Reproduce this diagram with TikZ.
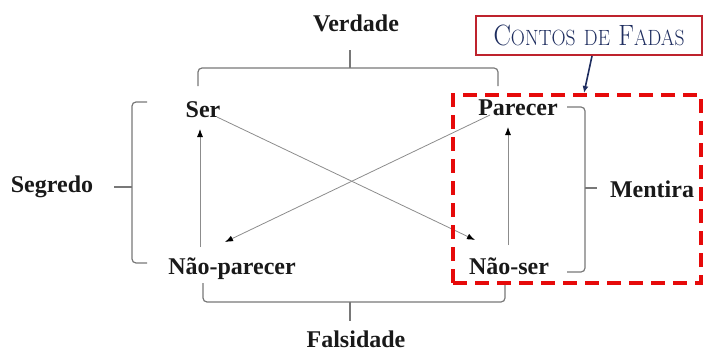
\documentclass[tikz,border=0pt]{standalone}
\usepackage{fontspec}
\setmainfont{Liberation Serif}
\newfontfamily\lmfont{Latin Modern Roman}
\usetikzlibrary{arrows.meta,calc}
\definecolor{fairyred}{RGB}{230,10,10}
\definecolor{boxred}{RGB}{190,35,45}
\definecolor{navy}{RGB}{30,45,95}
\definecolor{brgray}{RGB}{120,120,120}
\definecolor{lngray}{RGB}{140,140,140}
\newcommand{\capbig}[1]{{\fontsize{28}{28}\selectfont #1}}
\newcommand{\capsmall}[1]{{\fontsize{21}{21}\selectfont #1}}
\tikzset{
  lbl/.style={font=\bfseries\fontsize{24}{24}\selectfont, inner sep=0pt, anchor=base, text=black!90},
  br/.style={draw=brgray, line width=1.2pt, rounded corners=4pt},
  arr/.style={draw=lngray, line width=0.8pt, -{Latex[length=8pt,width=6pt,color=black]}},
  fairy/.style={draw=fairyred, line width=4pt, dash pattern=on 14pt off 8pt},
  contos/.style={draw=boxred, line width=2pt, fill=white, text=navy},
  navyarr/.style={draw=navy, line width=1.6pt, -{Latex[length=7pt,width=6pt]}}
}
\begin{document}
\begin{tikzpicture}[x=1pt,y=-1pt]
\useasboundingbox (0,0) rectangle (703,353);
% corner labels
\node[lbl] (ser) at (203,117) {Ser};
\node[lbl] (par) at (518,115) {Parecer};
\node[lbl] (npar) at (232,274) {Não-parecer};
\node[lbl] (nser) at (509,274) {Não-ser};
% side labels
\node[lbl] (verd) at (356,32) {Verdade};
\node[lbl] (fals) at (356,347) {Falsidade};
\node[lbl] (seg) at (52,192) {Segredo};
\node[lbl] (ment) at (652,197) {Mentira};
% brackets
\draw[br] (198,86) |- (498,68) -- (498,86);
\draw[br] (350,68) -- (350,50);
\draw[br] (203,283) |- (505,302) -- (505,283);
\draw[br] (350,302) -- (350,321);
\draw[br] (147,102) -| (132,263) -- (147,263);
\draw[br] (132,187) -- (114,187);
\draw[br] (567,107) -| (585,272) -- (567,272);
\draw[br] (585,188) -- (597,188);
% arrows
\draw[arr] ([shift={(-32,-27)}]npar.base) -- ([shift={(-3,12)}]ser.base);
\draw[arr] ([shift={(-1,-29)}]nser.base) -- ([shift={(-10,12)}]par.base);
\draw[arr] ([shift={(14,0)}]ser.base) -- ([shift={(-34,-34)}]nser.base);
\draw[arr] ([shift={(-28,0)}]par.base) -- ([shift={(-7,-32)}]npar.base);
% fairy tale highlight
\node[fairy, minimum width=248pt, minimum height=188pt, inner sep=0pt] (fbox) at (577,189) {};
\node[contos, minimum width=226pt, minimum height=39pt, inner sep=0pt] (contos) at (589,35.5)
  {\lmfont\scalebox{0.93}[1.05]{\capbig{C}\capsmall{ONTOS}\hspace{9pt}\capsmall{DE}\hspace{9pt}\capbig{F}\capsmall{ADAS}}};
\draw[navyarr] ([xshift=3pt]contos.south) -- ([xshift=7pt]fbox.north);
\end{tikzpicture}
\end{document}
